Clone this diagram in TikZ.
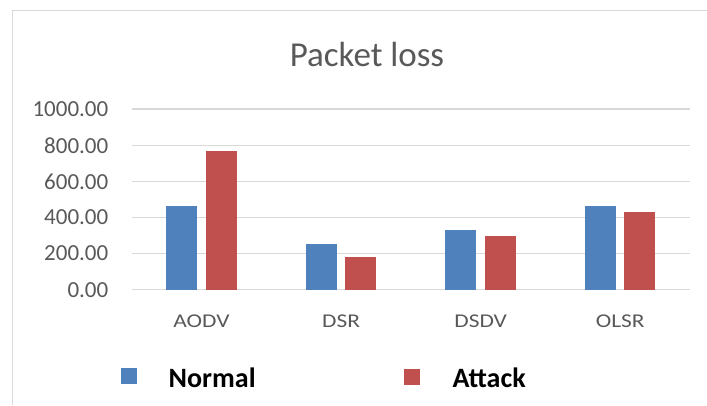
\documentclass[tikz,border=0pt]{standalone}
\usepackage{fontspec}
\usepackage{graphicx}
\setmainfont{Carlito}
\definecolor{seriesA}{HTML}{4F81BD}
\definecolor{seriesB}{HTML}{C0504D}
\definecolor{gridgray}{HTML}{D9D9D9}
\definecolor{textgray}{HTML}{595959}
\newcommand{\widecat}[1]{\scalebox{1.2}[1]{#1}}
\tikzset{
  gridline/.style={draw=gridgray, line width=1.5pt},
  frameline/.style={draw=gridgray, line width=1.5pt},
  ticklabel/.style={anchor=east, inner sep=0pt, text=textgray, font=\fontsize{23}{24}\selectfont},
  catlabel/.style={anchor=base, inner sep=0pt, text=textgray, font=\fontsize{19.5}{21}\selectfont},
  titlelabel/.style={anchor=base, inner sep=0pt, text=textgray, font=\fontsize{35}{38}\selectfont},
  legendlabel/.style={anchor=base west, inner sep=0pt, text=black, font=\fontsize{28}{30}\selectfont\bfseries},
  normalbar/.style={fill=seriesA},
  attackbar/.style={fill=seriesB},
}
\begin{document}
\begin{tikzpicture}[x=1pt, y=-1pt]
  \useasboundingbox (0,0) rectangle (707,405);
  % chart frame (left and top edges)
  \coordinate (frameTL) at (12.7,10.7);
  \coordinate (frameTR) at (707,10.7);
  \coordinate (frameBL) at (12.7,405);
  \draw[frameline] (frameBL) -- (frameTL) -- (frameTR);
  % title
  \node[titlelabel] (title) at (367,66) {Packet loss};
  % horizontal grid and value axis labels
  \foreach \v/\lab in {0/0.00, 200/200.00, 400/400.00, 600/600.00, 800/800.00, 1000/1000.00} {
    \pgfmathsetmacro{\yy}{289.7-0.1805*\v}
    \coordinate (gl\v) at (131.7,\yy);
    \coordinate (gr\v) at (690,\yy);
    \draw[gridline] (gl\v) -- (gr\v);
    \node[ticklabel] (tick\v) at (108.5,\yy) {\lab};
  }
  % bars: category centre / normal / attack
  \foreach \name/\cx/\vn/\va in {AODV/201.5/462/767, DSR/341.1/251/181, DSDV/480.7/329/297, OLSR/620.3/462/430} {
    \pgfmathsetmacro{\ytn}{289.7-0.1805*\vn}
    \pgfmathsetmacro{\yta}{289.7-0.1805*\va}
    \fill[normalbar] (\cx-35.5,289.7) rectangle (\cx-4.5,\ytn);
    \fill[attackbar] (\cx+4,289.7) rectangle (\cx+35,\yta);
    \node[catlabel] (cat\name) at (\cx,327.3) {\widecat{\name}};
  }
  % legend
  \fill[normalbar] (120.7,368.3) rectangle (136.7,384.3);
  \node[legendlabel] (legNormal) at (168.5,387.3) {Normal};
  \fill[attackbar] (404.3,368.8) rectangle (420.3,384.5);
  \node[legendlabel] (legAttack) at (452.3,387.3) {Attack};
\end{tikzpicture}
\end{document}
